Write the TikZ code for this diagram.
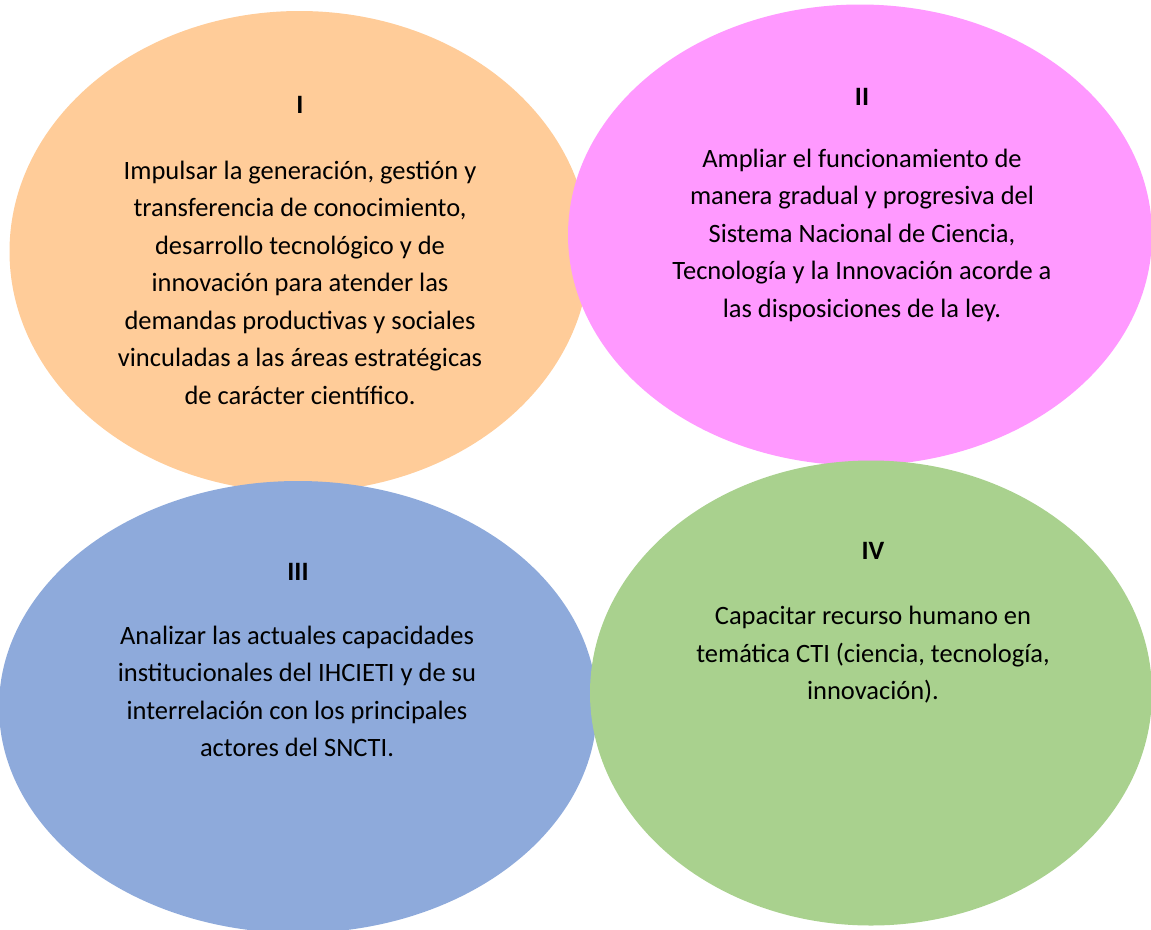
\documentclass[tikz,border=0pt]{standalone}
\usepackage{fontspec}
\setmainfont{Carlito}
\usetikzlibrary{shapes.geometric}
\definecolor{corange}{HTML}{FFCC99}
\definecolor{cpink}{HTML}{FF99FF}
\definecolor{cblue}{HTML}{8EAADB}
\definecolor{cgreen}{HTML}{A9D18E}
\begin{document}
\begin{tikzpicture}[x=1pt,y=-1pt,
  blob/.style={ellipse,draw=none,inner sep=0pt},
  ttl/.style={font=\fontsize{26.5}{37.5}\selectfont\bfseries,inner sep=0pt,anchor=center},
  body/.style={font=\fontsize{26.5}{37.5}\selectfont,align=center,inner sep=0pt,anchor=center}]
\useasboundingbox (0,0) rectangle (1151,929);
\node[blob,fill=corange,minimum width=580,minimum height=481] (e1) at (299.5,251.5) {};
\node[blob,fill=cpink,minimum width=584,minimum height=461] (e2) at (860,235) {};
\node[blob,fill=cblue,minimum width=598,minimum height=452] (e3) at (298,707) {};
\node[blob,fill=cgreen,minimum width=562,minimum height=465] (e4) at (871,693) {};
\node[ttl] (t1) at (300,105) {I};
\node[body] (b1) at (300,282.5) {Impulsar la generación, gestión y\\transferencia de conocimiento,\\desarrollo tecnológico y de\\innovación para atender las\\demandas productivas y sociales\\vinculadas a las áreas estratégicas\\de carácter científico.};
\node[ttl] (t2) at (862,97) {II};
\node[body] (b2) at (862,235) {Ampliar el funcionamiento de\\manera gradual y progresiva del\\Sistema Nacional de Ciencia,\\Tecnología y la Innovación acorde a\\las disposiciones de la ley.};
\node[ttl] (t3) at (298,572) {III};
\node[body] (b3) at (297,691.5) {Analizar las actuales capacidades\\institucionales del IHCIETI y de su\\interrelación con los principales\\actores del SNCTI.};
\node[ttl] (t4) at (873,551) {IV};
\node[body] (b4) at (873,655) {Capacitar recurso humano en\\temática CTI (ciencia, tecnología,\\innovación).};
\end{tikzpicture}
\end{document}
